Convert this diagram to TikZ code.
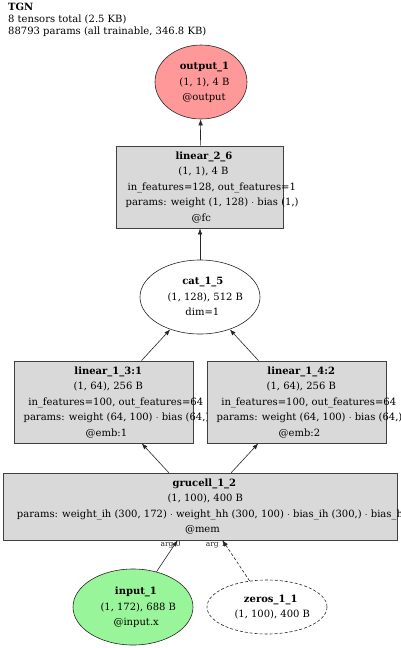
\documentclass[tikz,border=0pt]{standalone}
\usepackage{fontspec}
\setmainfont{DejaVu Serif}
\usepackage{tikz}
\usetikzlibrary{arrows.meta,shapes.geometric}

\definecolor{outred}{RGB}{255,153,153}
\definecolor{ingreen}{RGB}{153,245,153}
\definecolor{opgray}{RGB}{217,217,217}

% text lines run a little wide to the right, as in the graph renderer
\newcommand{\gvl}[1]{\makebox[0.86\width][l]{#1}}
\newcommand{\gvtext}[1]{\makebox[0pt]{\begin{tabular}{@{}c@{}}#1\end{tabular}}}

\begin{document}
\begin{tikzpicture}[
          x=1pt, y=-1pt,
          every node/.style={font=\fontsize{10}{15.5}\selectfont},
          oval/.style={draw=black!85, ellipse, inner sep=0pt, line width=0.6pt},
          opbox/.style={draw=black!75, rectangle, fill=opgray, inner sep=0pt, line width=0.8pt},
          edge/.style={-{Latex[length=6pt, width=4.5pt]}, line width=0.6pt, black!85},
          argl/.style={font=\fontsize{7.5}{8}\selectfont, anchor=north east, xshift=4pt, inner sep=0.5pt}
      ]
        \useasboundingbox (0,0) rectangle (400,648);
        \node[anchor=north west, align=left, inner sep=0pt, font=\fontsize{10}{12}\selectfont] (title) at (8,3)
          {\textbf{TGN}\\8 tensors total (2.5 KB)\\88793 params (all trainable, 346.8 KB)};
        \node[oval, fill=outred, minimum width=92pt, minimum height=74pt] (out1) at (201,82)
          {\gvtext{\gvl{\textbf{output\_1}}\\\gvl{(1, 1), 4 B}\\\gvl{@output}}};
        \node[opbox, minimum width=167pt, minimum height=82pt] (lin26) at (200,187)
          {\gvtext{\gvl{\textbf{linear\_2\_6}}\\\gvl{(1, 1), 4 B}\\\gvl{in\_features=128, out\_features=1}\\\gvl{params: weight (1, 128) $\cdot$ bias (1,)}\\\gvl{@fc}}};
        \node[oval, fill=white, minimum width=120pt, minimum height=74pt] (cat) at (200,297)
          {\gvtext{\gvl{\textbf{cat\_1\_5}}\\\gvl{(1, 128), 512 B}\\\gvl{dim=1}}};
        \node[opbox, minimum width=179pt, minimum height=82pt] (lin13) at (103.5,402)
          {\gvtext{\gvl{\textbf{linear\_1\_3:1}}\\\gvl{(1, 64), 256 B}\\\gvl{in\_features=100, out\_features=64}\\\gvl{params: weight (64, 100) $\cdot$ bias (64,)}\\\gvl{@emb:1}}};
        \node[opbox, minimum width=179pt, minimum height=82pt] (lin14) at (296.5,402)
          {\gvtext{\gvl{\textbf{linear\_1\_4:2}}\\\gvl{(1, 64), 256 B}\\\gvl{in\_features=100, out\_features=64}\\\gvl{params: weight (64, 100) $\cdot$ bias (64,)}\\\gvl{@emb:2}}};
        \node[opbox, minimum width=394pt, minimum height=67pt] (gru) at (200,506.5)
          {\gvtext{\gvl{\textbf{grucell\_1\_2}}\\\gvl{(1, 100), 400 B}\\\gvl{params: weight\_ih (300, 172) $\cdot$ weight\_hh (300, 100) $\cdot$ bias\_ih (300,) $\cdot$ bias\_hh (300,)}\\\gvl{@mem}}};
        \node[oval, fill=ingreen, minimum width=120pt, minimum height=76pt] (inp) at (133,607)
          {\gvtext{\gvl{\textbf{input\_1}}\\\gvl{(1, 172), 688 B}\\\gvl{@input.x}}};
        \node[oval, fill=white, dash pattern=on 3pt off 2pt, minimum width=120pt, minimum height=54pt] (zer) at (267,607)
          {\gvtext{\gvl{\textbf{zeros\_1\_1}}\\\gvl{(1, 100), 400 B}}};
        \draw[edge] (lin26) -- (out1);
        \draw[edge] (cat) -- (lin26);
        \draw[edge] (lin13) -- (cat);
        \draw[edge] (lin14) -- (cat);
        \draw[edge] (gru) -- (lin13);
        \draw[edge] (gru) -- (lin14);
        \draw[edge] (inp) -- node[argl, pos=1] {arg 0} (gru);
        \draw[edge, dash pattern=on 3pt off 2pt] (zer) -- node[argl, pos=1] {arg 1} (gru);
      \end{tikzpicture}
\end{document}
